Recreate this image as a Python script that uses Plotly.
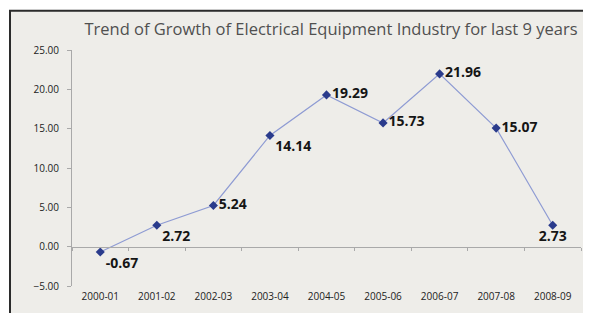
import plotly.graph_objects as go

categories = ["2000-01", "2001-02", "2002-03", "2003-04", "2004-05",
              "2005-06", "2006-07", "2007-08", "2008-09"]
growth = [-0.67, 2.72, 5.24, 14.14, 19.29, 15.73, 21.96, 15.07, 2.73]
label_pos = ["bottom right", "bottom right", "middle right", "bottom right",
             "middle right", "middle right", "middle right", "middle right",
             "bottom center"]
y_ticks = [-5, 0, 5, 10, 15, 20, 25]
title_text = "Trend of Growth of Electrical Equipment Industry for last 9 years"

OFF = 8  # page body margin
W, H = 591 - OFF, 313 - OFF
L, R, T, B = 72 - OFF, 10, 50 - OFF, 23
pw, ph = W - L - R, H - T - B


def px_x(p):
    return (p - OFF - L) / pw


def px_y(p):
    return (H - B - (p - OFF)) / ph


FONT = "Open Sans, Lato, sans-serif"

fig = go.Figure()
fig.add_trace(go.Scatter(
    x=categories, y=growth, mode="lines+markers+text",
    text=[f"{v:.2f}" for v in growth], textposition=label_pos,
    textfont=dict(family=FONT, size=14, color="#151515", weight="bold"),
    line=dict(color="#8e9bd3", width=1.2),
    marker=dict(symbol="diamond", size=7, color="#2a3b8c"),
    cliponaxis=False, hoverinfo="skip", showlegend=False,
))
fig.add_trace(go.Scatter(x=[-0.5, 8.5], y=[0, 0], xaxis="x2", mode="lines",
                         line=dict(color="rgba(0,0,0,0)", width=0),
                         hoverinfo="skip", showlegend=False))

fig.add_shape(type="rect", xref="paper", yref="paper",
              x0=px_x(10), x1=px_x(590), y0=px_y(340), y1=px_y(10),
              fillcolor="#eeede9", line=dict(color="#2b2b2b", width=2), layer="below")

fig.update_layout(
    width=W, height=H,
    margin=dict(l=L, r=R, t=T, b=B),
    paper_bgcolor="white", plot_bgcolor="rgba(0,0,0,0)",
    title=dict(text=title_text, x=px_x(331), xref="paper", xanchor="center",
               y=1 - (29 - OFF) / H, yref="container", yanchor="middle",
               font=dict(family=FONT, size=16.5, color="#505050")),
    xaxis=dict(type="category", categoryarray=categories, range=[-0.5, 8.5],
               showline=False, showgrid=False, zeroline=False, ticks="",
               tickfont=dict(family=FONT, size=10, color="#222"),
               ticklabelstandoff=3),
    xaxis2=dict(overlaying="x", anchor="free", position=5 / 30, range=[-0.5, 8.5],
                showline=True, linecolor="#a9a9a9", linewidth=1,
                tickvals=[i - 0.5 for i in range(10)], ticks="outside", ticklen=3,
                tickcolor="#a9a9a9", showticklabels=False, showgrid=False, zeroline=False),
    yaxis=dict(range=[-5, 25], tickvals=y_ticks, tickformat=".2f",
               showline=True, linecolor="#a9a9a9", linewidth=1,
               ticks="outside", ticklen=4, tickcolor="#a9a9a9",
               showgrid=False, zeroline=False, ticklabelstandoff=6,
               tickfont=dict(family=FONT, size=10, color="#222")),
)

fig.write_html("out.html")
